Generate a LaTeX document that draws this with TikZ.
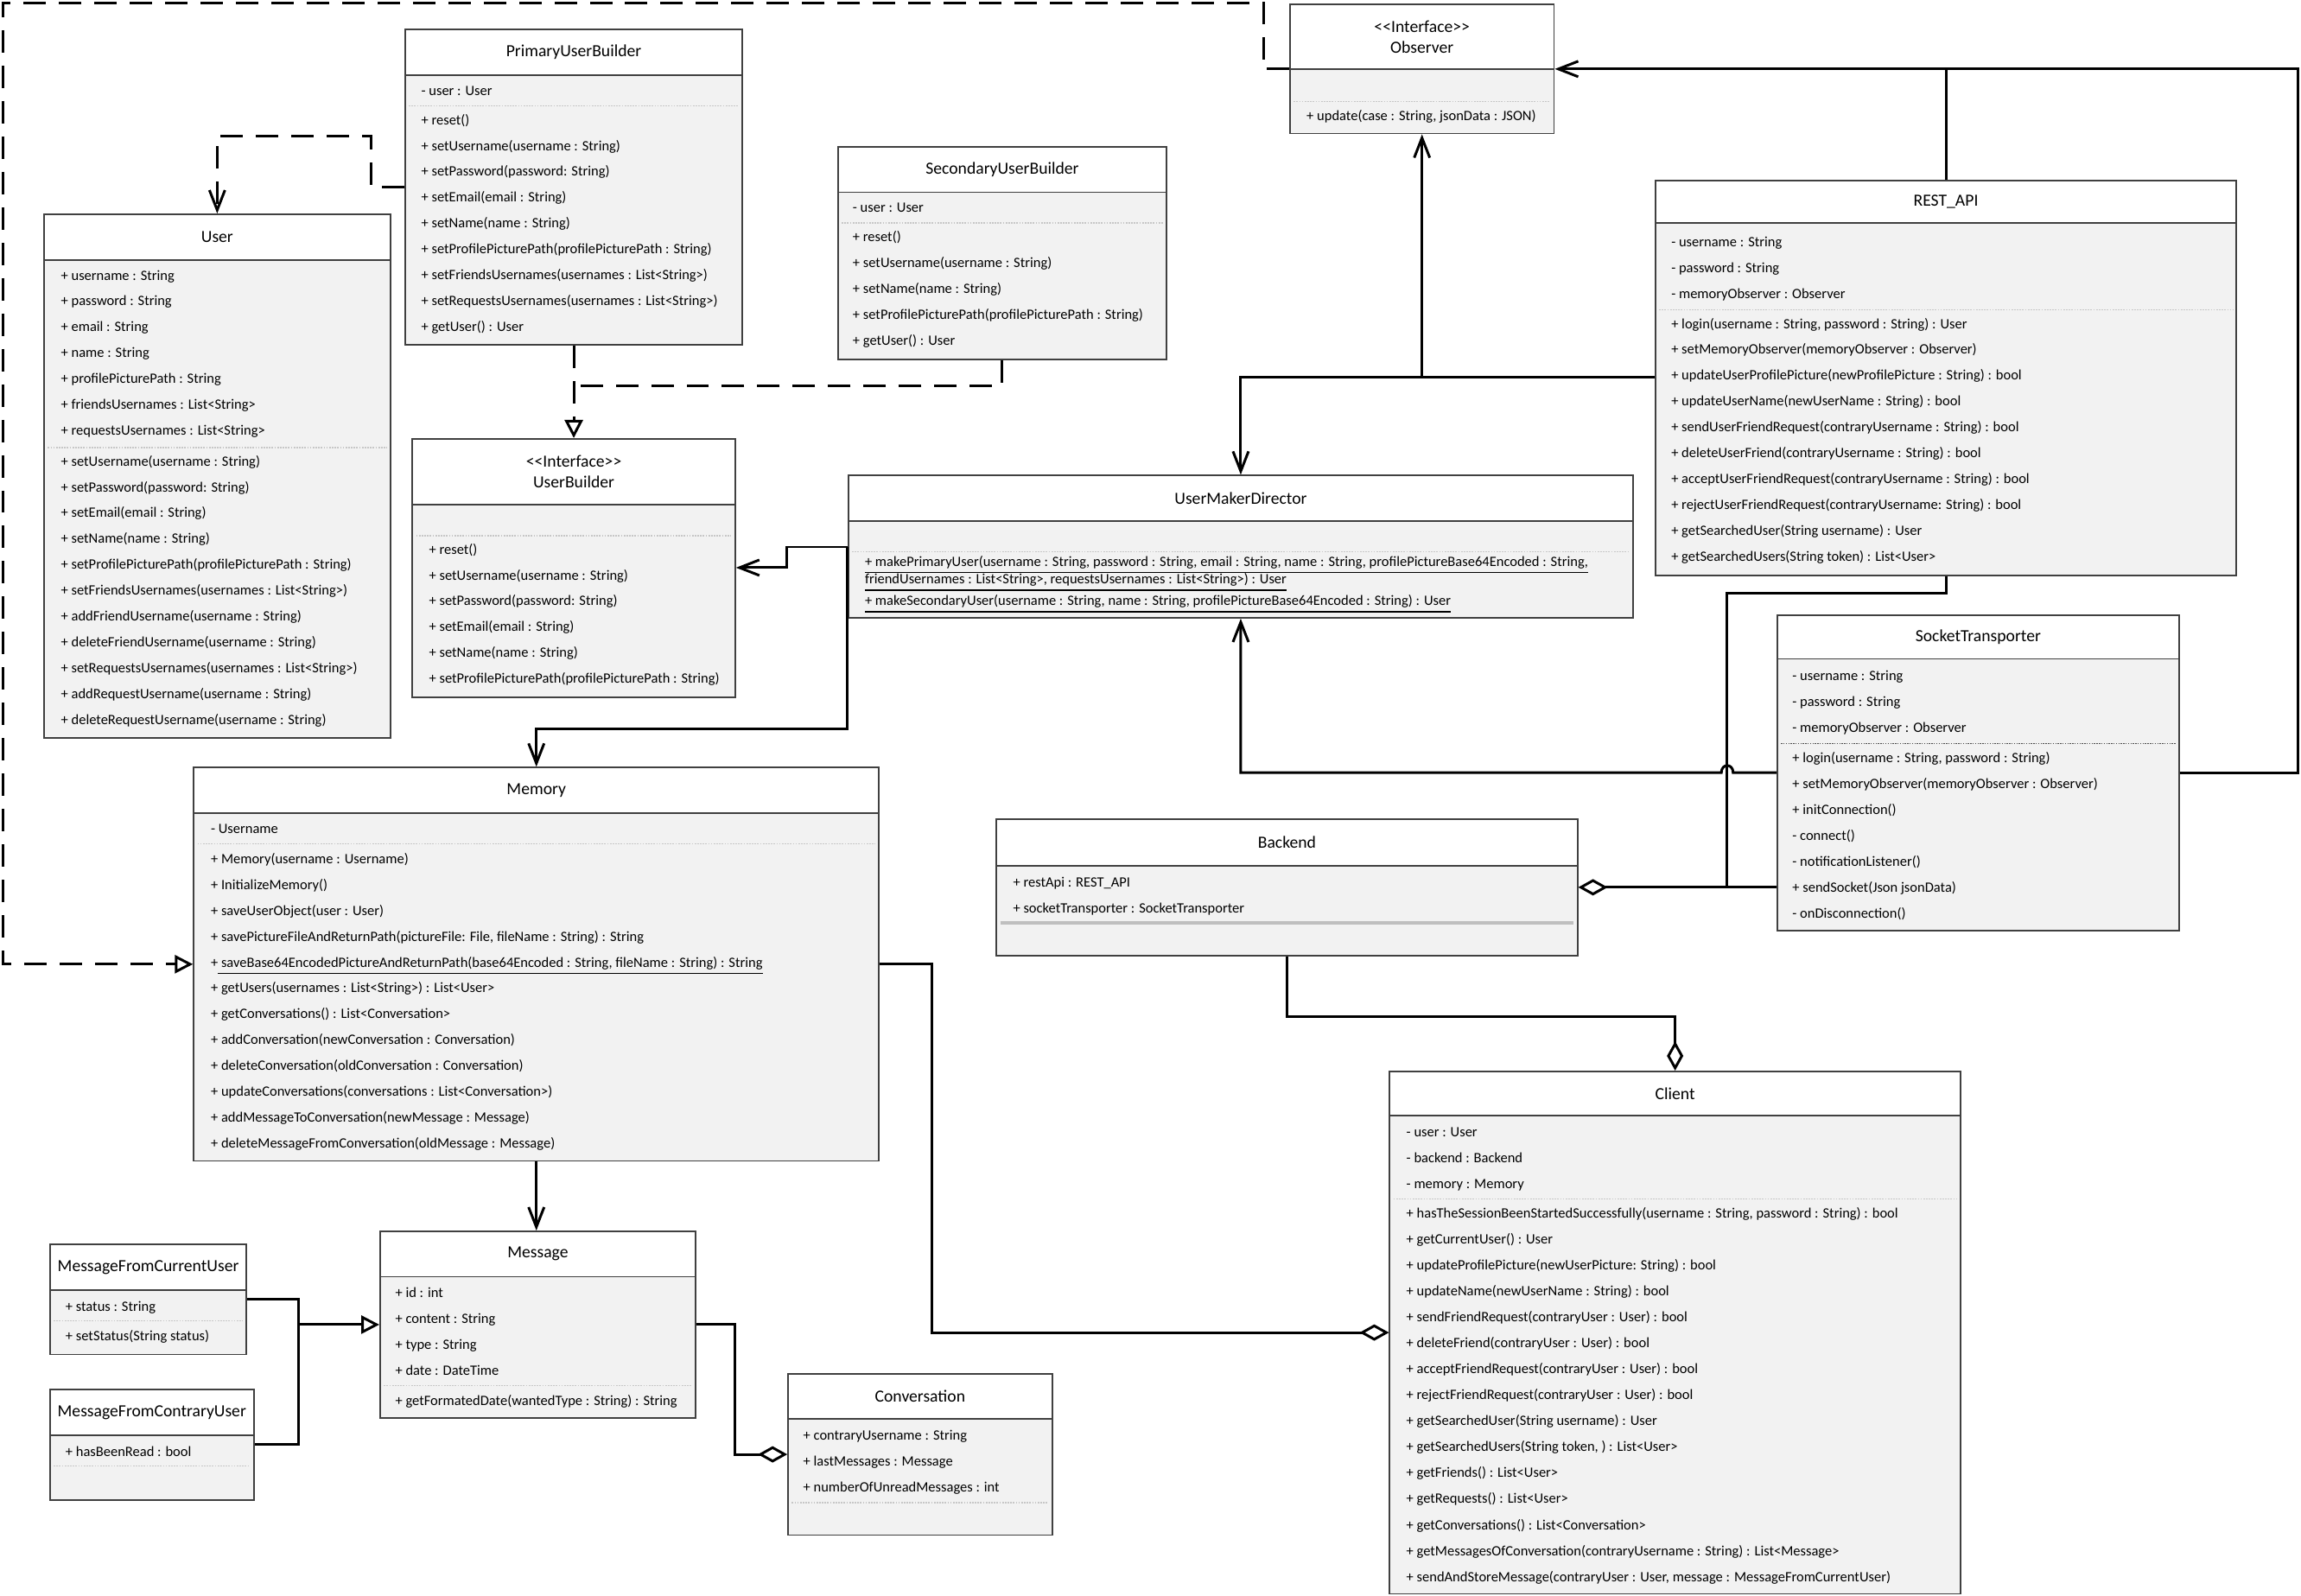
\documentclass[tikz,border=0pt]{standalone}
\usepackage{fontspec}
\setmainfont{Carlito}[Ligatures=TeXOff]
\usetikzlibrary{arrows.meta, fit}
\definecolor{bodyfill}{rgb}{0.95,0.95,0.95}
\definecolor{boxline}{rgb}{0.25,0.25,0.25}
\definecolor{sepgray}{rgb}{0.78,0.78,0.78}

\begin{document}
\begin{tikzpicture}[
		x=0.017cm, y=-0.017cm,
		classbody/.style={draw=boxline, fill=bodyfill, line width=0.5pt, inner sep=0pt},
		classhead/.style={draw=boxline, fill=white, line width=0.5pt, inner sep=0pt},
		classtitle/.style={align=center, inner sep=0pt, font=\fontsize{5.6pt}{6.8pt}\selectfont},
		member/.style={anchor=west, inner sep=0pt, text height=3.4pt, text depth=1pt, font=\fontsize{4.7pt}{8.5pt}\selectfont},
		sepline/.style={draw=sepgray, line width=0.4pt, dash pattern=on 0.5pt off 0.4pt},
		link/.style={draw, line width=0.85pt},
		dashlink/.style={link, dash pattern=on 0.26cm off 0.15cm},
		vee tip/.style={-{Straight Barb[length=2.3mm, width=1.8mm]}},
		triangle tip/.style={-{Triangle[open, length=2.1mm, width=2.1mm]}},
		diamond tip/.style={-{Diamond[open, length=3.4mm, width=1.9mm]}}
	]
	\useasboundingbox (0,0) rectangle (1568,1087);

	% class boxes
	\foreach \cls/\xa/\ya/\xb/\yb/\yh/\ctitle in {
		obs/879/3/1059/91/47/{<<Interface>>\\Observer},
		pub/276/20/506/235/51/PrimaryUserBuilder,
		sub/571/100/795/245/131/SecondaryUserBuilder,
		user/30/146/266/503/177/User,
		ub/281/299/501/475/344/{<<Interface>>\\UserBuilder},
		umd/578/324/1113/421/355/UserMakerDirector,
		rest/1128/123/1524/392/152/REST\_API,
		st/1211/419/1485/634/449/SocketTransporter,
		be/679/558/1075/651/590/Backend,
		mem/132/523/599/791/554/Memory,
		client/947/730/1336/1086/760/Client,
		msg/259/839/474/966/870/Message,
		mfcu/34/848/168/923/879/MessageFromCurrentUser,
		mfcr/34/947/173/1022/978/MessageFromContraryUser,
		conv/537/936/717/1046/967/Conversation} {
		\node[classbody, fit={(\xa,\ya) (\xb,\yb)}] (\cls) {};
		\node[classhead, fit={(\xa,\ya) (\xb,\yh)}] (\cls-head) {};
		\node[classtitle] (\cls-title) at (\cls-head.center) {\ctitle};
	}

	% compartment separators
	\foreach \cls/\y in {obs/69, pub/72, sub/152, user/305, ub/365, umd/376, rest/211, mem/575, client/817, msg/944, mfcu/900, mfcr/999, conv/1024} {
		\draw[sepline] ([xshift=1.5pt]\cls.west |- 0,\y) -- ([xshift=-1.5pt]\cls.east |- 0,\y);
	}
	\draw[draw=black!70, line width=0.5pt, dash pattern=on 0.4pt off 0.4pt] ([xshift=1.5pt]st.west |- 0,506.6) -- ([xshift=-1.5pt]st.east |- 0,506.6);
	\draw[draw=black!25, line width=1pt] ([xshift=1.5pt]be.west |- 0,628.8) -- ([xshift=-1.5pt]be.east |- 0,628.8);

	% Observer
	\node[member] (obs-op-1) at (890,79.5) {+ update(case : String, jsonData : JSON)};

	% PrimaryUserBuilder
	\node[member] (pub-attr-1) at (286.7,62.3) {- user : User};
	\foreach \txt [count=\i] in {{+ reset()}, {+ setUsername(username : String)}, {+ setPassword(password: String)}, {+ setEmail(email : String)}, {+ setName(name : String)}, {+ setProfilePicturePath(profilePicturePath : String)}, {+ setFriendsUsernames(usernames : List<String>)}, {+ setRequestsUsernames(usernames : List<String>)}, {+ getUser() : User}} {
		\node[member] (pub-op-\i) at (286.7, {82.4+17.6*(\i-1)}) {\txt};
	}

	% SecondaryUserBuilder
	\node[member] (sub-attr-1) at (580.7,142.3) {- user : User};
	\foreach \txt [count=\i] in {{+ reset()}, {+ setUsername(username : String)}, {+ setName(name : String)}, {+ setProfilePicturePath(profilePicturePath : String)}, {+ getUser() : User}} {
		\node[member] (sub-op-\i) at (580.7, {162.3+17.6*(\i-1)}) {\txt};
	}

	% User
	\foreach \txt [count=\i] in {{+ username : String}, {+ password : String}, {+ email : String}, {+ name : String}, {+ profilePicturePath : String}, {+ friendsUsernames : List<String>}, {+ requestsUsernames : List<String>}} {
		\node[member] (user-attr-\i) at (41.2, {188.3+17.6*(\i-1)}) {\txt};
	}
	\foreach \txt [count=\i] in {{+ setUsername(username : String)}, {+ setPassword(password: String)}, {+ setEmail(email : String)}, {+ setName(name : String)}, {+ setProfilePicturePath(profilePicturePath : String)}, {+ setFriendsUsernames(usernames : List<String>)}, {+ addFriendUsername(username : String)}, {+ deleteFriendUsername(username : String)}, {+ setRequestsUsernames(usernames : List<String>)}, {+ addRequestUsername(username : String)}, {+ deleteRequestUsername(username : String)}} {
		\node[member] (user-op-\i) at (41.2, {315+17.6*(\i-1)}) {\txt};
	}

	% UserBuilder
	\foreach \txt [count=\i] in {{+ reset()}, {+ setUsername(username : String)}, {+ setPassword(password: String)}, {+ setEmail(email : String)}, {+ setName(name : String)}, {+ setProfilePicturePath(profilePicturePath : String)}} {
		\node[member] (ub-op-\i) at (292, {375+17.6*(\i-1)}) {\txt};
	}

	% UserMakerDirector
	\node[member] (umd-op-1) at (589,383.2) {\underline{+ makePrimaryUser(username : String, password : String, email : String, name : String, profilePictureBase64Encoded : String,}};
	\node[member] (umd-op-2) at (589,395.2) {\underline{friendUsernames : List<String>, requestsUsernames : List<String>) : User}};
	\node[member] (umd-op-3) at (589,409.7) {\underline{+ makeSecondaryUser(username : String, name : String, profilePictureBase64Encoded : String) : User}};

	% REST_API
	\foreach \txt [count=\i] in {{- username : String}, {- password : String}, {- memoryObserver : Observer}} {
		\node[member] (rest-attr-\i) at (1138.5, {165.5+17.6*(\i-1)}) {\txt};
	}
	\foreach \txt [count=\i] in {{+ login(username : String, password : String) : User}, {+ setMemoryObserver(memoryObserver : Observer)}, {+ updateUserProfilePicture(newProfilePicture : String) : bool}, {+ updateUserName(newUserName : String) : bool}, {+ sendUserFriendRequest(contraryUsername : String) : bool}, {+ deleteUserFriend(contraryUsername : String) : bool}, {+ acceptUserFriendRequest(contraryUsername : String) : bool}, {+ rejectUserFriendRequest(contraryUsername: String) : bool}, {+ getSearchedUser(String username) : User}, {+ getSearchedUsers(String token) : List<User>}} {
		\node[member] (rest-op-\i) at (1138.5, {221.3+17.6*(\i-1)}) {\txt};
	}

	% SocketTransporter
	\foreach \txt [count=\i] in {{- username : String}, {- password : String}, {- memoryObserver : Observer}} {
		\node[member] (st-attr-\i) at (1221, {461.3+17.6*(\i-1)}) {\txt};
	}
	\foreach \txt [count=\i] in {{+ login(username : String, password : String)}, {+ setMemoryObserver(memoryObserver : Observer)}, {+ initConnection()}, {- connect()}, {- notificationListener()}, {+ sendSocket(Json jsonData)}, {- onDisconnection()}} {
		\node[member] (st-op-\i) at (1221, {517.3+17.6*(\i-1)}) {\txt};
	}

	% Backend
	\foreach \txt [count=\i] in {{+ restApi : REST\_API}, {+ socketTransporter : SocketTransporter}} {
		\node[member] (be-attr-\i) at (690, {601.7+17.6*(\i-1)}) {\txt};
	}

	% Memory
	\node[member] (mem-attr-1) at (143.3,565.4) {- Username};
	\foreach \txt [count=\i] in {{+ Memory(username : Username)}, {+ InitializeMemory()}, {+ saveUserObject(user : User)}, {+ savePictureFileAndReturnPath(pictureFile: File, fileName : String) : String}, {+\underline{ saveBase64EncodedPictureAndReturnPath(base64Encoded : String, fileName : String) : String}}, {+ getUsers(usernames : List<String>) : List<User>}, {+ getConversations() : List<Conversation>}, {+ addConversation(newConversation : Conversation)}, {+ deleteConversation(oldConversation : Conversation)}, {+ updateConversations(conversations : List<Conversation>)}, {+ addMessageToConversation(newMessage : Message)}, {+ deleteMessageFromConversation(oldMessage : Message)}} {
		\node[member] (mem-op-\i) at (143.3, {586+17.6*(\i-1)}) {\txt};
	}

	% Client
	\foreach \txt [count=\i] in {{- user : User}, {- backend : Backend}, {- memory : Memory}} {
		\node[member] (client-attr-\i) at (958, {772+17.7*(\i-1)}) {\txt};
	}
	\foreach \txt [count=\i] in {{+ hasTheSessionBeenStartedSuccessfully(username : String, password : String) : bool}, {+ getCurrentUser() : User}, {+ updateProfilePicture(newUserPicture: String) : bool}, {+ updateName(newUserName : String) : bool}, {+ sendFriendRequest(contraryUser : User) : bool}, {+ deleteFriend(contraryUser : User) : bool}, {+ acceptFriendRequest(contraryUser : User) : bool}, {+ rejectFriendRequest(contraryUser : User) : bool}, {+ getSearchedUser(String username) : User}, {+ getSearchedUsers(String token, ) : List<User>}, {+ getFriends() : List<User>}, {+ getRequests() : List<User>}, {+ getConversations() : List<Conversation>}, {+ getMessagesOfConversation(contraryUsername : String) : List<Message>}, {+ sendAndStoreMessage(contraryUser : User, message : MessageFromCurrentUser)}} {
		\node[member] (client-op-\i) at (958, {827.3+17.7*(\i-1)}) {\txt};
	}

	% Message and friends
	\foreach \txt [count=\i] in {{+ id : int}, {+ content : String}, {+ type : String}, {+ date : DateTime}} {
		\node[member] (msg-attr-\i) at (269, {881.6+17.6*(\i-1)}) {\txt};
	}
	\node[member] (msg-op-1) at (269,955) {+ getFormatedDate(wantedType : String) : String};
	\node[member] (mfcu-attr-1) at (44.3,891) {+ status : String};
	\node[member] (mfcu-op-1) at (44.3,911) {+ setStatus(String status)};
	\node[member] (mfcr-attr-1) at (44.3,990) {+ hasBeenRead : bool};
	\foreach \txt [count=\i] in {{+ contraryUsername : String}, {+ lastMessages : Message}, {+ numberOfUnreadMessages : int}} {
		\node[member] (conv-attr-\i) at (547, {978.8+17.6*(\i-1)}) {\txt};
	}

	% dependency and realizations
	\draw[dashlink, vee tip] (pub.west |- 0,127.6) -| (253,93) -| (user.north);
	\draw[dashlink, triangle tip] (pub.south) -- (ub.north);
	\draw[dashlink] (sub.south) |- (pub.south |- 0,262.7);
	\draw[dashlink, triangle tip] (obs.west |- 0,47) -| (861,1.8) -| (1.8,657) -- (mem.west |- 0,657);

	% associations
	\draw[link, vee tip] (st.east |- 0,526.5) -| (1566,47) -- (obs.east |- 0,47);
	\draw[link] (rest.north) -- (rest.north |- 0,47);
	\draw[link, vee tip] (rest.west |- 0,257.2) -| (umd.north);
	\draw[link, vee tip] (obs.south |- 0,257.2) -- (obs.south);
	\draw[link, vee tip] (umd.west |- 0,372.7) -| (536,386.8) -- (ub.east |- 0,386.8);
	\draw[link, vee tip] (umd.west |- 0,372.7) |- (mem.north |- 0,496.6) -- (mem.north);
	\draw[link, vee tip] (st.west |- 0,526.5) -- (1181,526.5) .. controls (1181,520) and (1173,520) .. (1173,526.5) -| (umd.south);
	\draw[link, vee tip] (mem.south) -- (mem.south |- msg.north);

	% aggregations
	\draw[link, diamond tip] (rest.south) |- (1177,404.4) |- (be.east |- 0,604.6);
	\draw[link] (st.west |- 0,604.6) -- (1177,604.6);
	\draw[link, diamond tip] (be.south) |- (client.north |- 0,693) -- (client.north);
	\draw[link, diamond tip] (mem.east |- 0,657) -| (635,908) -- (client.west |- 0,908);
	\draw[link, diamond tip] (msg.east |- 0,902.6) -| (500.5,991) -- (conv.west |- 0,991);

	% generalization
	\coordinate (msgjoin) at (203.5,902.6);
	\draw[link] (mfcu.east |- 0,885) -| (203.5,984) -- (mfcr.east |- 0,984);
	\draw[link, triangle tip] (msgjoin) -- (msg.west |- msgjoin);

\end{tikzpicture}
\end{document}
